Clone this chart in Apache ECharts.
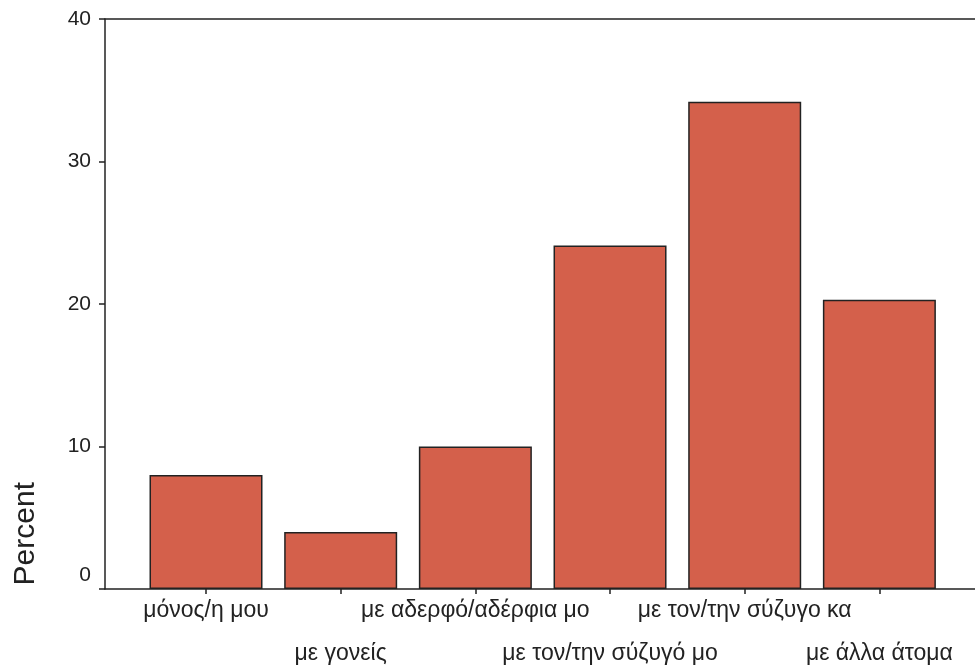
<!DOCTYPE html>
<html><head><meta charset="utf-8">
<script src="https://cdn.jsdelivr.net/npm/echarts@6/dist/echarts.min.js"></script>
<style>html,body{margin:0;padding:0;background:#fff}#c{width:975px;height:671px}</style>
</head><body><div id="c"></div>
<script>
const categories = ["μόνος/η μου", "με γονείς", "με αδερφό/αδέρφια μο", "με τον/την σύζυγό μο", "με τον/την σύζυγο κα", "με άλλα άτομα"];
const percentValues = [8.0, 4.0, 10.0, 24.1, 34.2, 20.3];
const yTicks = [0, 10, 20, 30, 40];
const axisTitle = "Percent";

const chart = echarts.init(document.getElementById('c'), null, {renderer: 'canvas'});
const font = '"Liberation Sans", Arial, sans-serif';
const idx = categories.map((c, i) => i);
const evenIdx = idx.filter(i => i % 2 === 0);
const oddIdx = idx.filter(i => i % 2 === 1);
const xMin = -0.75, xMax = categories.length - 0.29;
chart.setOption({
  animation: false,
  backgroundColor: '#ffffff',
  grid: {left: 105, right: 0, top: 19, bottom: 82, show: false},
  xAxis: [{
    type: 'value', min: xMin, max: xMax, position: 'bottom',
    splitLine: {show: false},
    axisLine: {show: true, onZero: false, lineStyle: {color: '#222', width: 1.5}},
    axisTick: {show: true, length: 5, lineStyle: {color: '#222', width: 1.5}, customValues: idx},
    axisLabel: {
      customValues: evenIdx, margin: 10, hideOverlap: false,
      fontFamily: font, fontSize: 23, color: '#222',
      formatter: v => categories[Math.round(v)]
    }
  }, {
    type: 'value', min: xMin, max: xMax, position: 'bottom',
    splitLine: {show: false},
    axisLine: {show: false, onZero: false},
    axisTick: {show: false},
    axisLabel: {
      customValues: oddIdx, margin: 53, hideOverlap: false,
      fontFamily: font, fontSize: 23, color: '#222',
      formatter: v => categories[Math.round(v)]
    }
  }, {
    type: 'value', min: xMin, max: xMax, position: 'top',
    splitLine: {show: false},
    axisLine: {show: true, onZero: false, lineStyle: {color: '#222', width: 1.5}},
    axisTick: {show: false},
    axisLabel: {show: false}
  }],
  yAxis: {
    type: 'value', min: 0, max: 40, interval: 10,
    splitLine: {show: false},
    axisLine: {show: true, onZero: false, lineStyle: {color: '#222', width: 1.5}},
    axisTick: {show: true, length: 6, lineStyle: {color: '#222', width: 1.5}},
    axisLabel: {fontFamily: font, fontSize: 21, color: '#222', margin: 14,
      formatter: v => v === 0 ? '{z|0}' : (yTicks.includes(v) ? String(v) : ''),
      rich: {z: {fontFamily: font, fontSize: 21, color: '#222', padding: [0, 0, 28, 0]}}}
  },
  graphic: [{
    type: 'text', left: 11, top: 482, rotation: Math.PI / 2,
    style: {text: axisTitle, fontFamily: font, fontSize: 30, fill: '#222'}
  }],
  series: [{
    type: 'bar',
    xAxisIndex: 0,
    data: percentValues.map((v, i) => [i, v]),
    barWidth: 113,
    itemStyle: {color: '#d4604b', borderColor: '#222', borderWidth: 1.5}
  }]
});
</script></body></html>
